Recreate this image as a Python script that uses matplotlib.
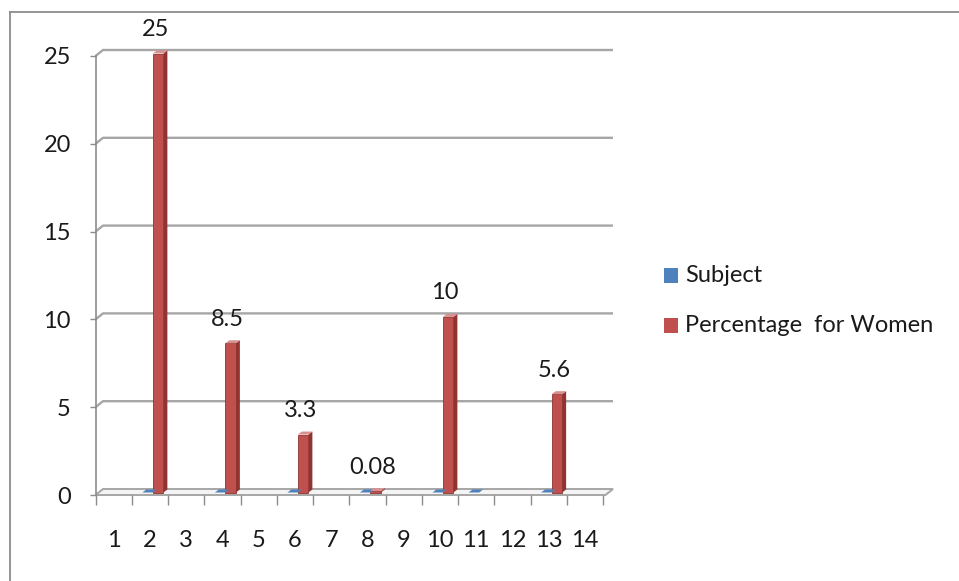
import numpy as np
import matplotlib
matplotlib.use("Agg")
import matplotlib.pyplot as plt
from matplotlib.patches import Polygon, Rectangle
from matplotlib.lines import Line2D

# ---- data -------------------------------------------------------------
categories = [str(i) for i in range(1, 15)]
subject = [np.nan, 0, np.nan, 0, np.nan, 0, np.nan, 0, np.nan, 0, 0, np.nan, 0, np.nan]
women = [np.nan, 25, np.nan, 8.5, np.nan, 3.3, np.nan, 0.08, np.nan, 10, np.nan, np.nan, 5.6, np.nan]
series_names = ["Subject", "Percentage  for Women"]
y_ticks = [0, 5, 10, 15, 20, 25]

# ---- style ------------------------------------------------------------
W, H, DPI = 959, 581, 100
FONT = ["Lato", "DejaVu Sans"]
FS = 17
TEXT_C = "#1a1a1a"
GRID_C = "#a6a6a6"
AXIS_C = "#8c8c8c"
colors = {
    "Subject": ("#4F81BD", "#385d8a", "#86a9d6"),
    "Percentage  for Women": ("#C0504D", "#8f3431", "#d9908e"),
}
plt.rcParams["font.family"] = FONT

fig = plt.figure(figsize=(W / DPI, H / DPI), dpi=DPI)
fig.patch.set_facecolor("white")

# plot area of the front plane (pixels, origin top-left)
left_px, right_px, top_px, bottom_px = 95.5, 603.0, 56.0, 495.0
ax = fig.add_axes([left_px / W, (H - bottom_px) / H,
                   (right_px - left_px) / W, (bottom_px - top_px) / H])
n = len(categories)
ax.set_xlim(0.5, n + 0.5)
ax.set_ylim(0, max(y_ticks))
for s in ax.spines.values():
    s.set_visible(False)

# pixel -> data unit helpers for the pseudo-3D depth
ux = (right_px - left_px) / n
uy = (bottom_px - top_px) / max(y_ticks)
def dxu(p):
    return p / ux
def dyu(p):
    return p / uy

BACK = (dxu(7.5), dyu(6.0))
x_right = n + 0.5 + dxu(2.5)

# floor
floor = Polygon([(0.5, 0), (x_right, 0), (x_right + BACK[0], BACK[1]),
                 (0.5 + BACK[0], BACK[1])], closed=True,
                facecolor="#f4f4f4", edgecolor=GRID_C, lw=1.4,
                clip_on=False, zorder=1)
ax.add_patch(floor)

# back-wall gridlines with their left-hand depth connectors
for v in y_ticks[1:]:
    ax.plot([0.5, 0.5 + BACK[0], x_right + BACK[0]],
            [v, v + BACK[1], v + BACK[1]],
            color=GRID_C, lw=1.7, clip_on=False, zorder=1,
            solid_capstyle="butt")

# front vertical axis
ax.plot([0.5, 0.5], [0, max(y_ticks)], color=AXIS_C, lw=1.2,
        clip_on=False, zorder=2)

# ticks and labels
ax.set_yticks(y_ticks)
ax.set_yticklabels([str(t) for t in y_ticks])
ax.tick_params(axis="y", length=4.3, width=1.0, color=AXIS_C,
               pad=13.5, labelsize=FS, labelcolor=TEXT_C)
ax.set_xticks(np.arange(1, n + 1))
ax.set_xticklabels(categories)
ax.set_xticks(np.arange(0.5, n + 1.0, 1.0), minor=True)
ax.tick_params(axis="x", which="major", length=0, pad=25.5,
               labelsize=FS, labelcolor=TEXT_C)
ax.tick_params(axis="x", which="minor", length=7.2, width=1.0,
               color=AXIS_C)

# bars drawn as small prisms: front face, right side and top
bw = dxu(10.5)
FRONT = (dxu(3.0), dyu(2.5))
REAR = (dxu(7.0), dyu(5.5))

def prism(xc, v, face, side, top):
    x0 = xc - bw / 2 + FRONT[0]
    x1 = xc + bw / 2 + FRONT[0]
    y0 = FRONT[1]
    y1 = v + FRONT[1]
    bx0 = xc - bw / 2 + REAR[0]
    bx1 = xc + bw / 2 + REAR[0]
    by0 = REAR[1]
    by1 = v + REAR[1]
    ax.add_patch(Polygon([(x1, y0), (x1, y1), (bx1, by1), (bx1, by0)],
                         closed=True, facecolor=side, edgecolor="none",
                         clip_on=False, zorder=3))
    if v > 0:
        ax.add_patch(Rectangle((x0, y0), bw, v, facecolor=face,
                               edgecolor=side, lw=0.6, clip_on=False,
                               zorder=4))
    ax.add_patch(Polygon([(x0, y1), (x1, y1), (bx1, by1), (bx0, by1)],
                         closed=True, facecolor=top if v > 0 else face,
                         edgecolor="none", clip_on=False, zorder=5))

xs = np.arange(1, n + 1)
for offset, name, vals in [(-0.5, series_names[0], subject),
                           (0.5, series_names[1], women)]:
    face, side, top = colors[name]
    for x, v in zip(xs, vals):
        if np.isnan(v):
            continue
        prism(x + offset * bw, v, face, side, top)

# value labels above the women's bars
for x, v in zip(xs, women):
    if np.isnan(v):
        continue
    ax.annotate(f"{v:g}", (x + 0.5 * bw, v), xytext=(0, 26.5 * 0.72),
                textcoords="offset points", ha="center", va="center",
                fontsize=FS, color=TEXT_C, annotation_clip=False)

# legend
for i, name in enumerate(series_names):
    face = colors[name][0]
    yc = 275.5 + 50 * i
    fig.add_artist(Rectangle((664 / W, (H - yc - 7.5) / H), 14 / W, 15 / H,
                             transform=fig.transFigure, facecolor=face,
                             edgecolor="none"))
    fig.text(685 / W, (H - yc) / H, name, ha="left", va="center",
             fontsize=FS, color=TEXT_C)

# chart frame
fig.add_artist(Line2D([10 / W, 10 / W], [0, (H - 12) / H],
                      transform=fig.transFigure, color="#8c8c8c", lw=1.3))
fig.add_artist(Line2D([10 / W, 1.0], [(H - 12) / H, (H - 12) / H],
                      transform=fig.transFigure, color="#8c8c8c", lw=1.3))

fig.savefig("out.png", dpi=DPI, facecolor="white")
